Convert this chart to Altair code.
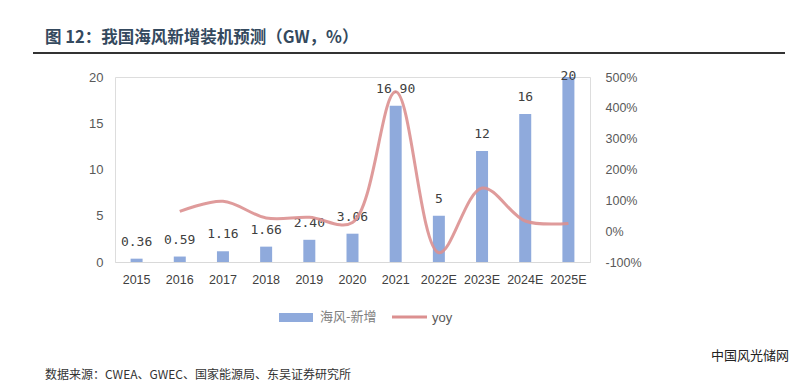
import altair as alt
import pandas as pd

years = ["2015", "2016", "2017", "2018", "2019", "2020", "2021", "2022E", "2023E", "2024E", "2025E"]
installs = [0.36, 0.59, 1.16, 1.66, 2.40, 3.06, 16.90, 5, 12, 16, 20]
install_labels = ["0.36", "0.59", "1.16", "1.66", "2.40", "3.06", "16.90", "5", "12", "16", "20"]
yoy = [None, 64, 97, 43, 45, 28, 452, -70, 140, 33, 25]

title_text = "图 12：我国海风新增装机预测（GW，%）"
source_text = "数据来源：CWEA、GWEC、国家能源局、东吴证券研究所"
watermark_text = "中国风光储网"
legend_bar = "海风-新增"
legend_line = "yoy"

df = pd.DataFrame({"year": years, "val": installs, "lab": install_labels, "yoy": yoy})

BAR = "#8FAADC"
LINE = "#DC9090"

x_enc = alt.X("year:N", sort=years,
              scale=alt.Scale(paddingInner=0, paddingOuter=0),
              axis=alt.Axis(title=None, labelAngle=0, ticks=False, domainColor="#D9D9D9",
                            labelColor="#404040", labelFontSize=12.5, labelFont="Liberation Sans",
                            labelPadding=11))

base = alt.Chart(df)

bars = base.mark_bar(color=BAR, size=12).encode(
    x=x_enc,
    y=alt.Y("val:Q", scale=alt.Scale(domain=[0, 20]),
            axis=alt.Axis(title=None, values=[0, 5, 10, 15, 20], domain=False, ticks=False, grid=False,
                          labelColor="#595959", labelFontSize=13, labelFont="Liberation Sans",
                          labelPadding=12)),
)

labels = base.transform_calculate(ly="min(datum.val, 18.3)").mark_text(
    font="DejaVu Sans Mono", fontSize=13, color="#404040", dy=-17, baseline="middle"
).encode(
    x=alt.X("year:N", sort=years),
    y=alt.Y("ly:Q", scale=alt.Scale(domain=[0, 20]), axis=None),
    text="lab:N",
)

line = base.mark_line(color=LINE, strokeWidth=3, interpolate="catmull-rom", opacity=0.9).encode(
    x=alt.X("year:N", sort=years),
    y=alt.Y("yoy:Q", scale=alt.Scale(domain=[-100, 500]),
            axis=alt.Axis(title=None, orient="right", values=[-100, 0, 100, 200, 300, 400, 500],
                          labelExpr="datum.value + '%'", domain=False, ticks=False, grid=False,
                          labelColor="#595959", labelFontSize=12.5, labelFont="Liberation Sans",
                          labelPadding=15)),
)

def txt(s, x, y, size, color, font, weight="normal", align="left"):
    return alt.Chart(pd.DataFrame({"t": [s]})).mark_text(
        fontSize=size, color=color, font=font, fontWeight=weight, align=align, baseline="middle"
    ).encode(x=alt.value(x), y=alt.value(y), text="t:N")

title = txt(title_text, -70, -39, 16.5, "#34495E", "Noto Sans CJK SC", "bold")
rule = alt.Chart(pd.DataFrame({"a": [0]})).mark_rule(color="#333333", strokeWidth=2).encode(
    x=alt.value(-82), x2=alt.value(670), y=alt.value(-24))
leg_rect = alt.Chart(pd.DataFrame({"a": [0]})).mark_rect(color=BAR).encode(
    x=alt.value(164), x2=alt.value(198), y=alt.value(236), y2=alt.value(245))
leg_t1 = txt(legend_bar, 205, 240, 13, "#808080", "Noto Sans CJK SC")
leg_line = alt.Chart(pd.DataFrame({"a": [0]})).mark_rule(color=LINE, strokeWidth=3).encode(
    x=alt.value(277), x2=alt.value(312), y=alt.value(240))
leg_t2 = txt(legend_line, 317, 241, 13, "#595959", "Liberation Sans")
source = txt(source_text, -70, 298, 12, "#333333", "Noto Sans CJK SC")
wm = txt(watermark_text, 674, 279, 13, "#222222", "Noto Sans CJK SC", align="right")

chart = alt.layer(bars, labels, line, title, rule, leg_rect, leg_t1, leg_line, leg_t2, source, wm).resolve_scale(
    y="independent"
).properties(
    width=475, height=185,
    padding={"left": 107, "top": 69, "right": 202, "bottom": 120},
    autosize=alt.AutoSizeParams(type="none"),
).configure_view(stroke=None).configure(background="white")

chart.save("out.html", embed_options={"renderer": "svg", "actions": False})
